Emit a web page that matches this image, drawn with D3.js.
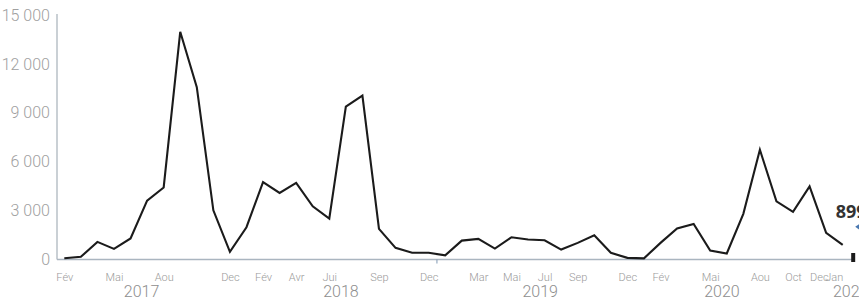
<!DOCTYPE html>
<html>
<head>
<meta charset="utf-8">
<script src="https://cdn.jsdelivr.net/npm/d3@7"></script>
<style>
  body { margin: 0; background: #fff; }
  svg { display: block; font-family: Roboto, "Open Sans", sans-serif; }
</style>
</head>
<body>
<svg id="chart" width="859" height="298"></svg>
<script>
// monthly values, Feb 2017 -> Jan 2021
const months = [
  "2017-02", "2017-03", "2017-04", "2017-05", "2017-06", "2017-07", "2017-08", "2017-09", "2017-10", "2017-11", "2017-12",
  "2018-01", "2018-02", "2018-03", "2018-04", "2018-05", "2018-06", "2018-07", "2018-08", "2018-09", "2018-10", "2018-11", "2018-12",
  "2019-01", "2019-02", "2019-03", "2019-04", "2019-05", "2019-06", "2019-07", "2019-08", "2019-09", "2019-10", "2019-11", "2019-12",
  "2020-01", "2020-02", "2020-03", "2020-04", "2020-05", "2020-06", "2020-07", "2020-08", "2020-09", "2020-10", "2020-11", "2020-12",
  "2021-01"
];
const values = [
  80, 165, 1080, 650, 1290, 3610, 4420, 13970, 10570, 3020, 470,
  1980, 4750, 4080, 4700, 3260, 2510, 9380, 10060, 1880, 715, 410, 410,
  255, 1160, 1265, 670, 1365, 1225, 1180, 610, 1020, 1490, 410, 100,
  70, 1020, 1900, 2180, 550, 370, 2800, 6730, 3570, 2920, 4490, 1630,
  899
];

const monthTicks = ["2017-02", "2017-05", "2017-08", "2017-12", "2018-02", "2018-04", "2018-06", "2018-09", "2018-12",
  "2019-03", "2019-05", "2019-07", "2019-09", "2019-12", "2020-02", "2020-05", "2020-08", "2020-10", "2020-12", "2021-01"];
const monthTickLabels = ["Fév", "Mai", "Aou", "Dec", "Fév", "Avr", "Jui", "Sep", "Dec",
  "Mar", "Mai", "Jul", "Sep", "Dec", "Fév", "Mai", "Aou", "Oct", "Dec", "Jan"];

const yearDates = ["2017-06-21", "2018-06-22", "2019-06-23", "2020-05-23", "2021-01-16"];
const yearLabels = ["2017", "2018", "2019", "2020", "2021"];

const yTicks = [0, 3000, 6000, 9000, 12000, 15000];
const lastLabel = "899";

const width = 859;
const height = 298;
const margin = { top: 15, left: 57, bottom: 38.5 };

const parseMonth = d3.timeParse("%Y-%m");
const parseDay = d3.timeParse("%Y-%m-%d");
const start = parseMonth(months[0]);

// position in months since start (months are evenly spaced in the original)
const monthPos = date => {
  const m0 = d3.timeMonth.floor(date);
  const frac = (date - m0) / (d3.timeMonth.offset(m0, 1) - m0);
  return d3.timeMonth.count(start, m0) + frac;
};

const x = d3.scaleLinear()
  .domain([0, months.length - 1])
  .range([64.3, 842.7]);

const y = d3.scaleLinear()
  .domain([0, 15000])
  .range([height - margin.bottom, margin.top]);

const fr = d3.formatLocale({ decimal: ",", thousands: " ", grouping: [3], currency: ["", " €"] });
const fmt = fr.format(",");

const svg = d3.select("#chart");

// axis lines
svg.append("line")
  .attr("x1", margin.left).attr("x2", margin.left)
  .attr("y1", y(15000) - 1).attr("y2", y(0))
  .attr("stroke", "#b9c0c7").attr("stroke-width", 1.5);

svg.append("line")
  .attr("x1", margin.left).attr("x2", 853)
  .attr("y1", y(0)).attr("y2", y(0))
  .attr("stroke", "#aab5c0").attr("stroke-width", 1.5);

// small marker at the 2019 boundary
const bx = (x(22) + x(23)) / 2;
svg.append("line")
  .attr("x1", bx).attr("x2", bx)
  .attr("y1", y(0)).attr("y2", y(0) + 4)
  .attr("stroke", "#7f98b3").attr("stroke-width", 1);

// y axis labels
const yAxis = d3.axisLeft(y).tickValues(yTicks).tickFormat(fmt).tickSize(0).tickPadding(7);
const gy = svg.append("g")
  .attr("transform", `translate(${margin.left},0)`)
  .call(yAxis);
gy.select(".domain").remove();
gy.selectAll("text")
  .style("font-family", "Roboto, sans-serif")
  .style("font-weight", "300")
  .style("font-size", "16px")
  .attr("fill", "#a0a0a0");

// month labels
const tickPos = monthTicks.map(m => monthPos(parseMonth(m)));
const xAxis = d3.axisBottom(x).tickValues(tickPos)
  .tickFormat((d, i) => monthTickLabels[i]).tickSize(0).tickPadding(0);
const gx = svg.append("g")
  .attr("transform", `translate(0,${y(0)})`)
  .call(xAxis);
gx.select(".domain").remove();
gx.selectAll("text")
  .attr("y", 0)
  .attr("dy", "21.5px")
  .style("font-family", "Roboto, sans-serif")
  .style("font-weight", "300")
  .style("font-size", "11px")
  .attr("fill", "#9a9a9a");

// last two labels are pushed left so they stay inside
const txt = gx.selectAll("text").nodes();
const n = txt.length;
d3.select(txt[n - 1]).attr("text-anchor", "end");
d3.select(txt[n - 2]).attr("text-anchor", "end").attr("x", 2);

// year labels
svg.append("g")
  .selectAll("text")
  .data(yearLabels)
  .join("text")
  .attr("x", (d, i) => x(monthPos(parseDay(yearDates[i]))))
  .attr("y", y(0) + 37.5)
  .attr("text-anchor", "middle")
  .style("font-family", "Roboto, sans-serif")
  .style("font-weight", "300")
  .style("font-size", "16px")
  .attr("fill", "#8e8e8e")
  .text(d => d);

// the line
const line = d3.line()
  .x((d, i) => x(i))
  .y(d => y(d));

svg.append("path")
  .datum(values)
  .attr("d", line)
  .attr("fill", "none")
  .attr("stroke", "#1b1b1b")
  .attr("stroke-width", 2.1)
  .attr("stroke-linejoin", "miter");

// end marker + last value label
const lastX = x(values.length - 1);
const lastY = y(values[values.length - 1]);

svg.append("rect")
  .attr("x", lastX + 8.5).attr("y", y(0) - 6.5)
  .attr("width", 4).attr("height", 9)
  .attr("fill", "#1b1b1b");

svg.append("text")
  .attr("x", lastX - 7)
  .attr("y", lastY - 26.5)
  .style("font-family", "'Open Sans', sans-serif")
  .style("font-weight", "700")
  .style("font-size", "18px")
  .attr("fill", "#333")
  .text(lastLabel);

svg.append("path")
  .attr("d", `M${lastX + 17},${lastY - 21} L${lastX + 12.5},${lastY - 18} L${lastX + 17},${lastY - 15} Z`)
  .attr("fill", "#4a78b0");
</script>
</body>
</html>
